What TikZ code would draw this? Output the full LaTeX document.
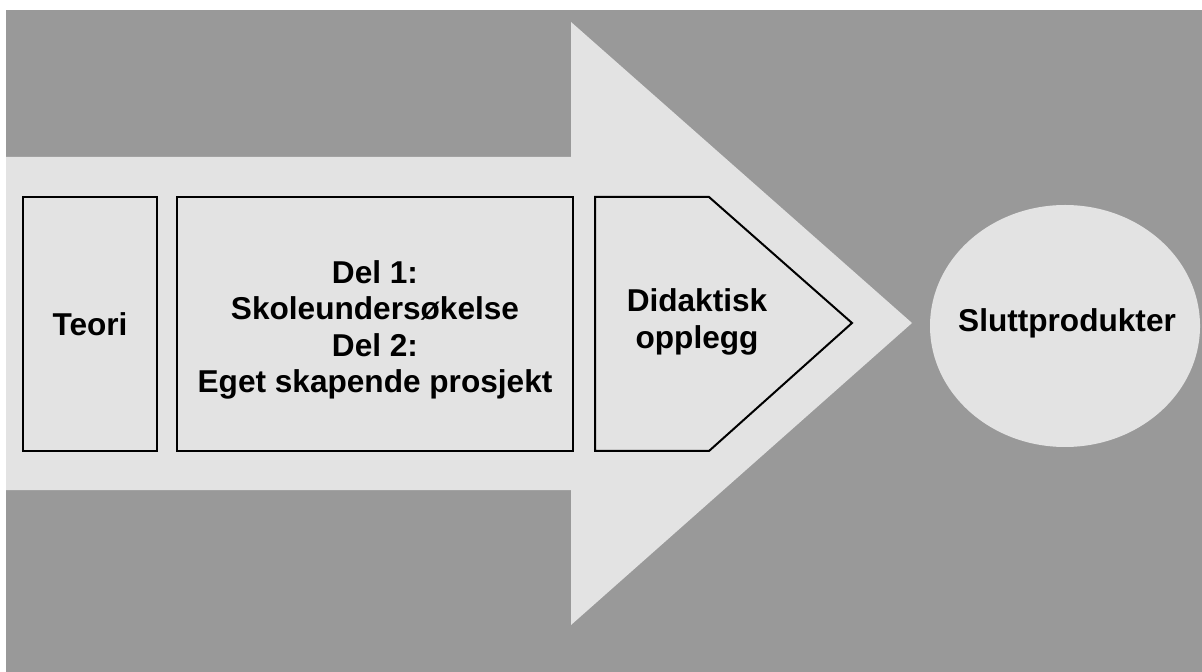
\documentclass[tikz,border=0pt]{standalone}
\usepackage{fontspec}
\setmainfont{Liberation Sans}
\usepackage{xcolor}
\definecolor{bggray}{HTML}{999999}
\definecolor{lightgray}{HTML}{E3E3E3}
\tikzset{
  box/.style={draw=black, line width=1pt, fill=lightgray},
  label/.style={align=center, font=\bfseries\fontsize{15.8}{18.3}\selectfont}
}

\begin{document}
\begin{tikzpicture}[x=0.5pt, y=-0.5pt]
            \useasboundingbox (0,0) rectangle (1202,672);
            \fill[white] (0,0) rectangle (1202,672);
            \fill[bggray] (6,10) rectangle (1202,672);
            % big arrow
            \fill[lightgray] (6,157) -- (571,157) -- (571,22) -- (912,323) -- (571,625) -- (571,490) -- (6,490) -- cycle;
            % steps
            \draw[box] (23,197) rectangle (157,451);
            \draw[box] (177,197) rectangle (573,451);
            \draw[box] (595,197) -- (709,197) -- (852,323) -- (709,451) -- (595,451) -- cycle;
            \fill[lightgray] (1065,326) ellipse [x radius=135, y radius=121];
            \node[label] (teori) at (90,324) {Teori};
            \node[label] (deler) at (375,330) {Del 1:\\Skoleundersøkelse\\Del 2:\\Eget skapende prosjekt};
            \node[label] (didaktisk) at (697,322) {Didaktisk\\opplegg};
            \node[label] (slutt) at (1067,323) {Sluttprodukter};
        \end{tikzpicture}
\end{document}
